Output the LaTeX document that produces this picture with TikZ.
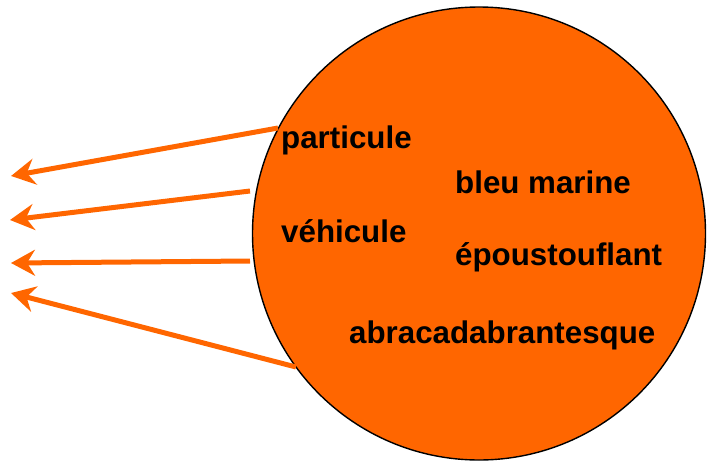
\documentclass[tikz,border=0pt]{standalone}
\usepackage{fontspec}
\setmainfont{Liberation Sans}
\usetikzlibrary{arrows.meta}
\definecolor{vivid}{HTML}{FF6600}
\begin{document}
\begin{tikzpicture}[x=1pt,y=-1pt,
  ball/.style={circle,draw=black,line width=1.4pt,fill=vivid,minimum size=453pt,inner sep=0pt},
  word/.style={anchor=base west,inner sep=0pt,font=\fontsize{31.3}{36}\selectfont\bfseries},
  outarrow/.style={draw=vivid,line width=5pt,-{Stealth[length=24pt,width=26pt,inset=8pt]}}]
\useasboundingbox (0,0) rectangle (712,461);
\node[ball] (c) at (479,233.5) {};
\coordinate (s1) at (278,128);
\coordinate (s2) at (250,191);
\coordinate (s3) at (250,261);
\coordinate (s4) at (296,367);
\coordinate (t1) at (11,176);
\coordinate (t2) at (10,220);
\coordinate (t3) at (11,263);
\coordinate (t4) at (11,293);
\draw[outarrow] (s1) -- (t1);
\draw[outarrow] (s2) -- (t2);
\draw[outarrow] (s3) -- (t3);
\draw[outarrow] (s4) -- (t4);
\node[word] (w1) at (281,148) {particule};
\node[word] (w2) at (455,193) {bleu marine};
\node[word] (w3) at (281,242) {véhicule};
\node[word] (w4) at (455,265) {époustouflant};
\node[word] (w5) at (349,343) {abracadabrantesque};
\end{tikzpicture}
\end{document}
